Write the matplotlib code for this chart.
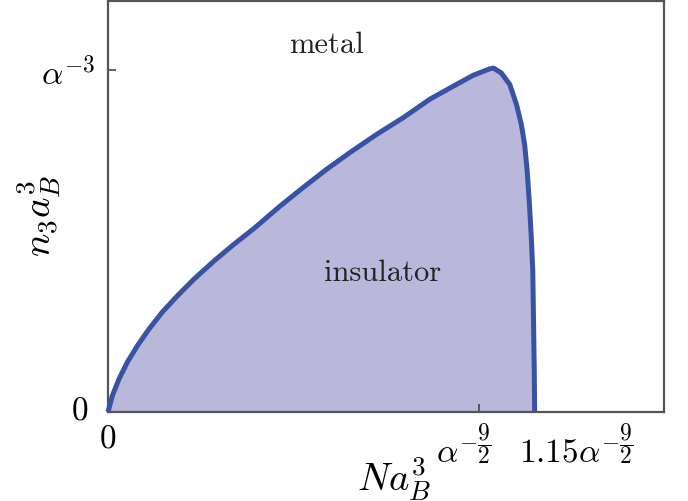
import matplotlib
matplotlib.use("Agg")
import matplotlib.pyplot as plt
from matplotlib.transforms import ScaledTranslation

plt.rcParams['font.family'] = 'serif'
plt.rcParams['font.serif'] = ['cmr10']
plt.rcParams['mathtext.fontset'] = 'cm'
plt.rcParams['axes.unicode_minus'] = False

# boundary curve (x in units of alpha^{-9/2}, y in units of alpha^{-3})
boundary_x = [0.0, 0.0116, 0.0296, 0.052, 0.079, 0.1105, 0.146, 0.187, 0.232, 0.286,
              0.340, 0.394, 0.464, 0.526, 0.589, 0.652, 0.724, 0.796, 0.868, 0.931,
              0.985, 1.030, 1.040, 1.061, 1.084, 1.102, 1.115, 1.124, 1.131, 1.137,
              1.142, 1.146, 1.148, 1.150, 1.151]
boundary_y = [0.0, 0.047, 0.096, 0.145, 0.193, 0.242, 0.291, 0.339, 0.388, 0.441,
              0.490, 0.536, 0.601, 0.655, 0.708, 0.757, 0.810, 0.859, 0.913, 0.951,
              0.983, 1.002, 1.004, 0.990, 0.956, 0.898, 0.840, 0.781, 0.703, 0.606,
              0.509, 0.412, 0.266, 0.120, 0.0]

xtick_vals = [0, 1.0, 1.15]
xtick_labels = [r'$0$', r'$\alpha^{-\dfrac{9}{2}}$', r'$1.15\alpha^{-\dfrac{9}{2}}$']
ytick_vals = [0, 1.0]
ytick_labels = [r'$0$', r'$\alpha^{-3}$']

fig = plt.figure(figsize=(6.88, 5.02), dpi=100)
ax = fig.add_axes([108/688, 1-413/502, 556/688, 411/502])

ax.fill(boundary_x, boundary_y, color='#b9b7da', lw=0, zorder=1)
ax.plot(boundary_x, boundary_y, color='#3953a4', lw=3.6, solid_capstyle='butt',
        solid_joinstyle='round', zorder=3, clip_on=False)

ax.set_xlim(0, 1.5)
ax.set_ylim(0, 1.2)
ax.set_xticks(xtick_vals)
ax.set_xticklabels(xtick_labels)
ax.set_yticks(ytick_vals)
ax.set_yticklabels(ytick_labels)
ax.tick_params(direction='in', length=6, width=1.2, color='#444444', labelsize=24)
ax.tick_params(axis='x', pad=8)
ax.tick_params(axis='y', pad=9)
for s in ax.spines.values():
    s.set_color('#555555')
    s.set_linewidth(1.6)

ax.set_xlabel(r'$Na_B^3$', fontsize=28)
ax.xaxis.set_label_coords((394-108)/556, -0.10)
ax.set_ylabel(r'$n_3a_B^3$', fontsize=28)
ax.yaxis.set_label_coords(-0.081, 0.479)

ax.text(0.59, 1.073, 'metal', fontsize=22, ha='center', va='center', color='#222222')
ax.text(0.741, 0.408, 'insulator', fontsize=22, ha='center', va='center', color='#222222')

fig.canvas.draw()

# individual tick-label offsets (pixels at 100 dpi)
def shift(lbl, dx, dy):
    lbl.set_transform(lbl.get_transform() + ScaledTranslation(dx / 100, dy / 100, fig.dpi_scale_trans))

xt = ax.xaxis.get_major_ticks()
shift(xt[1].label1, -15, 0)
shift(xt[2].label1, 42, 0)
yt = ax.yaxis.get_major_ticks()
yt[0].set_pad(14.4)
shift(yt[0].label1, 0, 5)

fig.savefig('out.png', dpi=100)
